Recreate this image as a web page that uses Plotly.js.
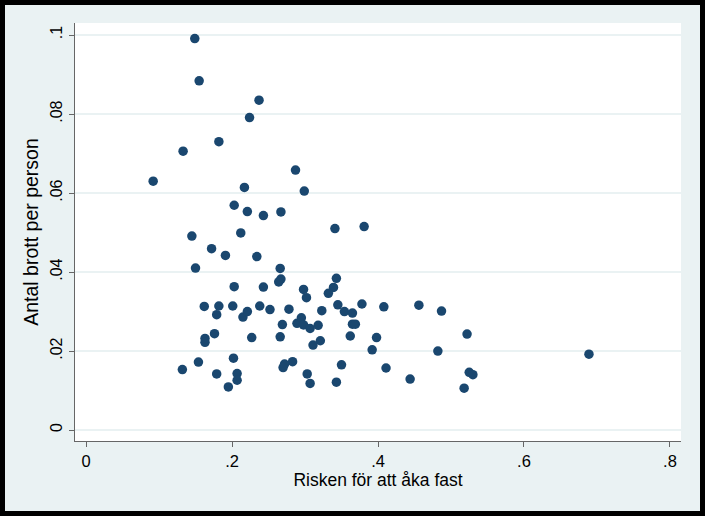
<!DOCTYPE html>
<html>
<head>
<meta charset="utf-8">
<script src="https://cdn.plot.ly/plotly-3.0.1.min.js"></script>
<style>
  body { margin: 0; background: #000; }
  #chart { position: absolute; left: 5px; top: 5px; width: 695px; height: 506px; }
</style>
</head>
<body>
<div id="chart"></div>
<script>
// Risken för att åka fast (x) mot antal brott per person (y)
const risk = [
    0.149, 0.155, 0.237, 0.224, 0.182, 0.133, 0.092, 0.287, 0.299, 0.217,
    0.203, 0.221, 0.243, 0.267, 0.341, 0.381, 0.145, 0.212, 0.172, 0.191,
    0.234, 0.150, 0.266, 0.267, 0.264, 0.343, 0.339, 0.332, 0.203, 0.243,
    0.298, 0.302, 0.162, 0.182, 0.179, 0.201, 0.215, 0.221, 0.238, 0.252,
    0.278, 0.323, 0.345, 0.354, 0.365, 0.378, 0.408, 0.456, 0.487, 0.269,
    0.289, 0.295, 0.298, 0.307, 0.318, 0.365, 0.369, 0.362, 0.176, 0.163,
    0.163, 0.227, 0.266, 0.321, 0.311, 0.398, 0.392, 0.482, 0.522, 0.202,
    0.154, 0.132, 0.179, 0.207, 0.207, 0.195, 0.283, 0.272, 0.270, 0.350,
    0.303, 0.307, 0.343, 0.411, 0.444, 0.525, 0.530, 0.518, 0.689
];
const brott = [
    0.0991, 0.0884, 0.0835, 0.0791, 0.0730, 0.0706, 0.0630, 0.0658, 0.0605, 0.0614,
    0.0569, 0.0553, 0.0543, 0.0552, 0.0510, 0.0515, 0.0491, 0.0499, 0.0459, 0.0442,
    0.0439, 0.0410, 0.0409, 0.0382, 0.0375, 0.0384, 0.0361, 0.0346, 0.0363, 0.0362,
    0.0356, 0.0335, 0.0313, 0.0314, 0.0292, 0.0314, 0.0286, 0.0300, 0.0314, 0.0305,
    0.0306, 0.0302, 0.0317, 0.0300, 0.0296, 0.0319, 0.0312, 0.0316, 0.0301, 0.0267,
    0.0270, 0.0284, 0.0266, 0.0257, 0.0265, 0.0268, 0.0268, 0.0238, 0.0244, 0.0232,
    0.0222, 0.0234, 0.0236, 0.0226, 0.0215, 0.0234, 0.0203, 0.0200, 0.0243, 0.0182,
    0.0172, 0.0153, 0.0142, 0.0143, 0.0126, 0.0109, 0.0173, 0.0167, 0.0158, 0.0165,
    0.0142, 0.0118, 0.0121, 0.0157, 0.0129, 0.0146, 0.0140, 0.0106, 0.0192
];
const xTicks = [0, 0.2, 0.4, 0.6, 0.8];
const xTickLabels = ['0', '.2', '.4', '.6', '.8'];
const yTicks = [0, 0.02, 0.04, 0.06, 0.08, 0.1];
const yTickLabels = ['0', '.02', '.04', '.06', '.08', '.1'];

const trace = {
    type: 'scatter',
    mode: 'markers',
    x: risk,
    y: brott,
    marker: { color: '#1a476f', size: 9.5 },
    hoverinfo: 'none'
};

const layout = {
    width: 695,
    height: 506,
    margin: { l: 70, r: 19, t: 18, b: 70 },
    paper_bgcolor: '#eaf2f3',
    plot_bgcolor: '#ffffff',
    font: { family: 'Liberation Sans, Arial, sans-serif', color: '#000', size: 15 },
    showlegend: false,
    xaxis: {
        range: [-0.0151, 0.8151],
        tickvals: xTicks,
        ticktext: xTickLabels,
        ticks: 'outside',
        ticklen: 5,
        tickcolor: '#666',
        showline: true,
        linecolor: '#666',
        linewidth: 1.2,
        showgrid: false,
        zeroline: false,
        tickfont: { size: 16.5 },
        title: { text: 'Risken för att åka fast', font: { size: 17.5 }, standoff: 3 }
    },
    yaxis: {
        range: [-0.00278, 0.10304],
        tickvals: yTicks,
        ticktext: yTickLabels,
        tickangle: -90,
        ticks: 'outside',
        ticklen: 5,
        tickcolor: '#666',
        showline: true,
        linecolor: '#666',
        linewidth: 1.2,
        showgrid: true,
        gridcolor: '#eaf2f3',
        gridwidth: 1.5,
        zeroline: false,
        tickfont: { size: 16 },
        title: { text: 'Antal brott per person', font: { size: 19.5 }, standoff: 4 }
    }
};

Plotly.newPlot('chart', [trace], layout, { displayModeBar: false, staticPlot: true });
</script>
</body>
</html>
